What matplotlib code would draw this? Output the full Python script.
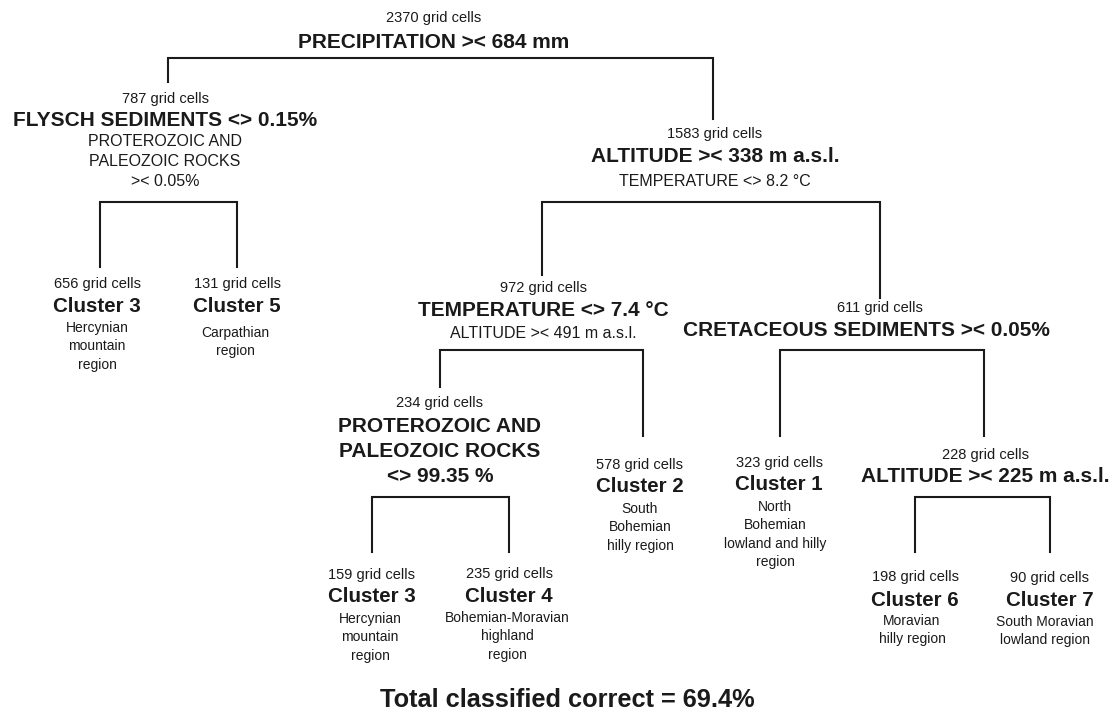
import matplotlib.pyplot as plt

plt.rcParams['font.family'] = ['Liberation Sans', 'DejaVu Sans']

# tree content
cells = [2370, 787, 1583, 656, 131, 972, 611, 234, 578, 323, 228, 159, 235, 198, 90]
titles = ['PRECIPITATION >< 684 mm', 'FLYSCH SEDIMENTS <> 0.15%', 'ALTITUDE >< 338 m a.s.l.',
          'Cluster 3', 'Cluster 5', 'TEMPERATURE <> 7.4 °C', 'CRETACEOUS SEDIMENTS >< 0.05%',
          'PROTEROZOIC AND\nPALEOZOIC ROCKS\n<> 99.35 %', 'Cluster 2', 'Cluster 1',
          'ALTITUDE >< 225 m a.s.l.', 'Cluster 3', 'Cluster 4', 'Cluster 6', 'Cluster 7']
notes = ['', 'PROTEROZOIC AND\nPALEOZOIC ROCKS\n>< 0.05%', 'TEMPERATURE <> 8.2 °C',
         'Hercynian\nmountain\nregion', 'Carpathian\nregion', 'ALTITUDE >< 491 m a.s.l.', '', '',
         'South\nBohemian\nhilly region', 'North\nBohemian\nlowland and hilly\nregion', '',
         'Hercynian\nmountain\nregion', 'Bohemian-Moravian\nhighland\nregion',
         'Moravian\nhilly region', 'South Moravian\nlowland region']
children = {0: (1, 2), 1: (3, 4), 2: (5, 6), 5: (7, 8), 6: (9, 10), 7: (11, 12), 10: (13, 14)}
total_text = 'Total classified correct = 69.4%'

# layout in pixels: line x, y of count text, bottom of incoming line, text shifts
pos_x = [434, 168, 713, 100, 237, 542, 880, 440, 643, 780, 984, 372, 509, 915, 1050]
pos_y = [18, 99, 134, 284, 284, 288, 308, 403, 465, 463, 455, 575, 574, 577, 578]
line_end = [0, 82, 119, 267, 267, 275, 298, 387, 436, 436, 436, 552, 552, 552, 552]
text_dx = [0, -3, 2, -3, 0, 1, 0, 0, -3, -1, 1, 0, 0, 0, 0]
title_dx = [0, 0, 0, 0, 0, 0, -14, 0, 0, 0, 0, 0, 0, 0, 0]
note_dx = [0, 0, 0, 0, -2, 0, 0, 0, 0, -4, 0, -2, -2, -3, -5]
title_gap = [24, 21, 23, 22, 22, 22, 22, 23, 22, 22, 22, 22, 22, 23, 23]
note_gap = [0, 22, 24, 22, 27, 23, 0, 0, 22, 22, 0, 22, 22, 21, 21]
bracket_y = {0: 58, 1: 202, 2: 202, 5: 350, 6: 350, 7: 497, 10: 497}

fig = plt.figure(figsize=(11.1, 7.11), dpi=100)
ax = fig.add_axes([0, 0, 1, 1])
ax.set_xlim(0, 1110)
ax.set_ylim(711, 0)
ax.axis('off')

ink = '#1a1a1a'
lw = 1.5

for parent, (a, b) in children.items():
    yb = bracket_y[parent]
    ax.plot([pos_x[a], pos_x[a], pos_x[b], pos_x[b]],
            [line_end[a], yb, yb, line_end[b]], color=ink, lw=lw, solid_joinstyle='miter')

for i in range(len(cells)):
    x = pos_x[i] + text_dx[i]
    y = pos_y[i]
    leaf = i not in children
    ax.text(x, y, f'{cells[i]} grid cells', ha='center', va='center', fontsize=10.5, color=ink)
    y += title_gap[i]
    for k, line in enumerate(titles[i].split('\n')):
        if k:
            y += 25.5
        ax.text(x + title_dx[i], y, line, ha='center', va='center',
                fontsize=15 if not leaf else 14.8, fontweight='bold', color=ink)
    if notes[i]:
        y += note_gap[i]
        for k, line in enumerate(notes[i].split('\n')):
            if k:
                y += 18.3 if leaf else 20
            ax.text(x + note_dx[i], y, line, ha='center', va='center',
                    fontsize=10 if leaf else 11.5, color=ink)

ax.text(567, 700, total_text, ha='center', va='center', fontsize=18.3, fontweight='bold', color=ink)

plt.savefig('out.png', dpi=100)
